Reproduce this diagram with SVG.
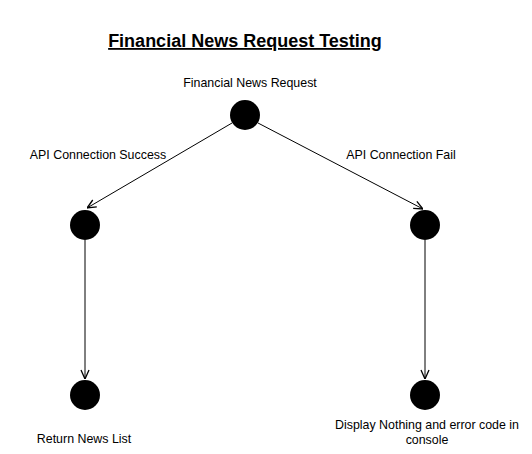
<svg xmlns="http://www.w3.org/2000/svg" width="532" height="454" viewBox="0 0 532 454">
<defs>
<marker id="arr" viewBox="0 0 10 10" refX="10" refY="5" markerWidth="10" markerHeight="10" markerUnits="userSpaceOnUse" orient="auto">
<path d="M1,1 L10,5 L1,9" fill="none" stroke="#000" stroke-width="1.3"/>
</marker>
<style>
.n{fill:#000}
.t{font-family:"Liberation Sans",Arial,sans-serif;font-size:12.4px;fill:#000}
.e{stroke:#000;stroke-width:1;fill:none;marker-end:url(#arr)}
</style>
</defs>
<rect width="532" height="454" fill="#fff"/>
<text x="245" y="47" text-anchor="middle" font-family="Liberation Sans,Arial,sans-serif" font-size="18" font-weight="bold" text-decoration="underline">Financial News Request Testing</text>
<g id="connectors">
<path class="e" d="M232,123 L87,208"/>
<path class="e" d="M258,123 L423,209"/>
<path class="e" d="M85,240 L85,379"/>
<path class="e" d="M425,240 L425,379"/>
</g>
<g id="start"><circle class="n" cx="245" cy="115" r="15"/><text class="t" x="250" y="87" text-anchor="middle">Financial News Request</text></g>
<g id="success"><circle class="n" cx="85" cy="225" r="15"/><text class="t" x="98" y="159" text-anchor="middle">API Connection Success</text></g>
<g id="fail"><circle class="n" cx="425" cy="225" r="15"/><text class="t" x="401" y="159" text-anchor="middle">API Connection Fail</text></g>
<g id="returnList"><circle class="n" cx="85" cy="395" r="15"/><text class="t" x="84" y="443" text-anchor="middle">Return News List</text></g>
<g id="displayNothing"><circle class="n" cx="425" cy="395" r="15"/><text class="t" x="427" y="429" text-anchor="middle">Display Nothing and error code in</text><text class="t" x="427" y="444" text-anchor="middle">console</text></g>
</svg>
